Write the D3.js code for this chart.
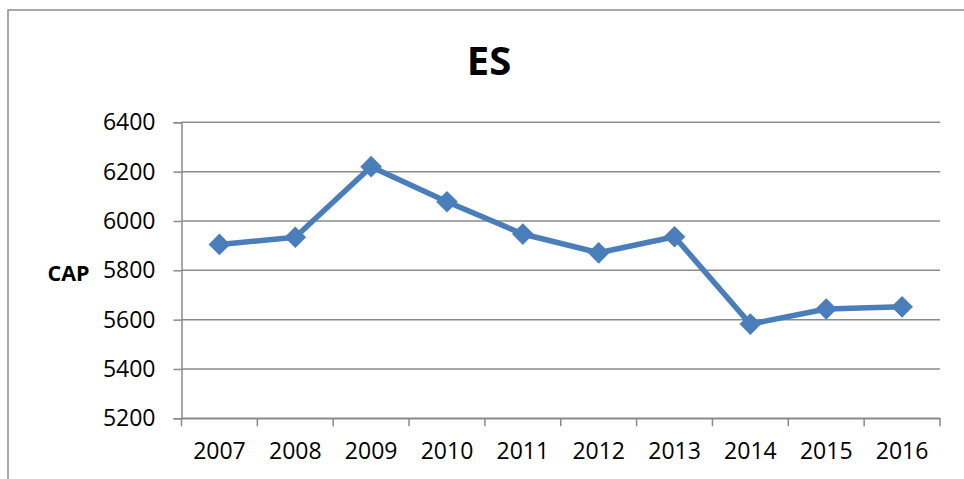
<!DOCTYPE html>
<html>
<head>
<meta charset="utf-8">
<script src="https://cdn.jsdelivr.net/npm/d3@7"></script>
<style>
  html, body { margin: 0; padding: 0; background: #fff; }
  svg { display: block; }
  text { font-family: "Open Sans", "Liberation Sans", sans-serif; }
</style>
</head>
<body>
<svg id="chart" width="964" height="479"></svg>
<script>
const title = "ES";
const yAxisTitle = "CAP";
const categories = ["2007","2008","2009","2010","2011","2012","2013","2014","2015","2016"];
const values = [5905, 5934, 6220, 6078, 5947, 5871, 5936, 5582, 5643, 5652];
const yTicks = [5200, 5400, 5600, 5800, 6000, 6200, 6400];

const svg = d3.select("#chart");
const W = 964, H = 479;
const plot = { left: 181.5, right: 940, top: 122.3, bottom: 418.3 };

// outer chart border
svg.append("rect")
  .attr("x", 8).attr("y", 10)
  .attr("width", W).attr("height", H)
  .attr("fill", "none").attr("stroke", "#8c8c8c").attr("stroke-width", 1.5);

const x = d3.scaleBand().domain(categories).range([plot.left, plot.right]).padding(0);
const y = d3.scaleLinear().domain([5200, 6400]).range([plot.bottom, plot.top]);

// gridlines
svg.append("g").selectAll("line").data(yTicks).join("line")
  .attr("x1", plot.left).attr("x2", plot.right)
  .attr("y1", d => y(d)).attr("y2", d => y(d))
  .attr("stroke", "#8a8a8a").attr("stroke-width", 1.5);

// y axis
const yAxis = d3.axisLeft(y).tickValues(yTicks).tickSize(8).tickPadding(18).tickFormat(d3.format("d"));
const gy = svg.append("g").attr("transform", `translate(${plot.left},0)`).call(yAxis);
gy.select(".domain").attr("stroke", "#8a8a8a").attr("stroke-width", 1.5);
gy.selectAll(".tick line").attr("stroke", "#8a8a8a").attr("stroke-width", 1.5);
gy.selectAll(".tick text").attr("font-size", 23).attr("fill", "#000")
  .style("font-family", '"Open Sans", sans-serif');

// x axis
const xAxis = d3.axisBottom(x).tickSize(0).tickPadding(24);
const gx = svg.append("g").attr("transform", `translate(0,${plot.bottom})`).call(xAxis);
gx.select(".domain").attr("stroke", "#8a8a8a").attr("stroke-width", 1.5);
gx.selectAll(".tick text").attr("font-size", 23).attr("fill", "#000")
  .style("font-family", '"Open Sans", sans-serif');
// tick marks at category boundaries
const bounds = categories.map(c => x(c)).concat([plot.right]);
svg.append("g").selectAll("line").data(bounds).join("line")
  .attr("x1", d => d).attr("x2", d => d)
  .attr("y1", plot.bottom).attr("y2", plot.bottom + 8)
  .attr("stroke", "#8a8a8a").attr("stroke-width", 1.5);

// line
const cx = d => x(d) + x.bandwidth() / 2;
const line = d3.line().x((d, i) => cx(categories[i])).y(d => y(d));
svg.append("path").datum(values)
  .attr("d", line).attr("fill", "none")
  .attr("stroke", "#4a7ebb").attr("stroke-width", 5.5).attr("stroke-linejoin", "round");

// diamond markers
const diamond = d3.symbol().type(d3.symbolDiamond2).size(300);
svg.append("g").selectAll("path").data(values).join("path")
  .attr("transform", (d, i) => `translate(${cx(categories[i])},${y(d)})`)
  .attr("d", diamond)
  .attr("fill", "#4a7ebb");

// title
svg.append("text")
  .attr("x", 489).attr("y", 75)
  .attr("text-anchor", "middle")
  .attr("font-size", 40).attr("font-weight", "bold")
  .text(title);

// y axis title
svg.append("text")
  .attr("x", 68.5).attr("y", 280.5)
  .attr("text-anchor", "middle")
  .attr("font-size", 21.5).attr("font-weight", "bold")
  .text(yAxisTitle);
</script>
</body>
</html>
